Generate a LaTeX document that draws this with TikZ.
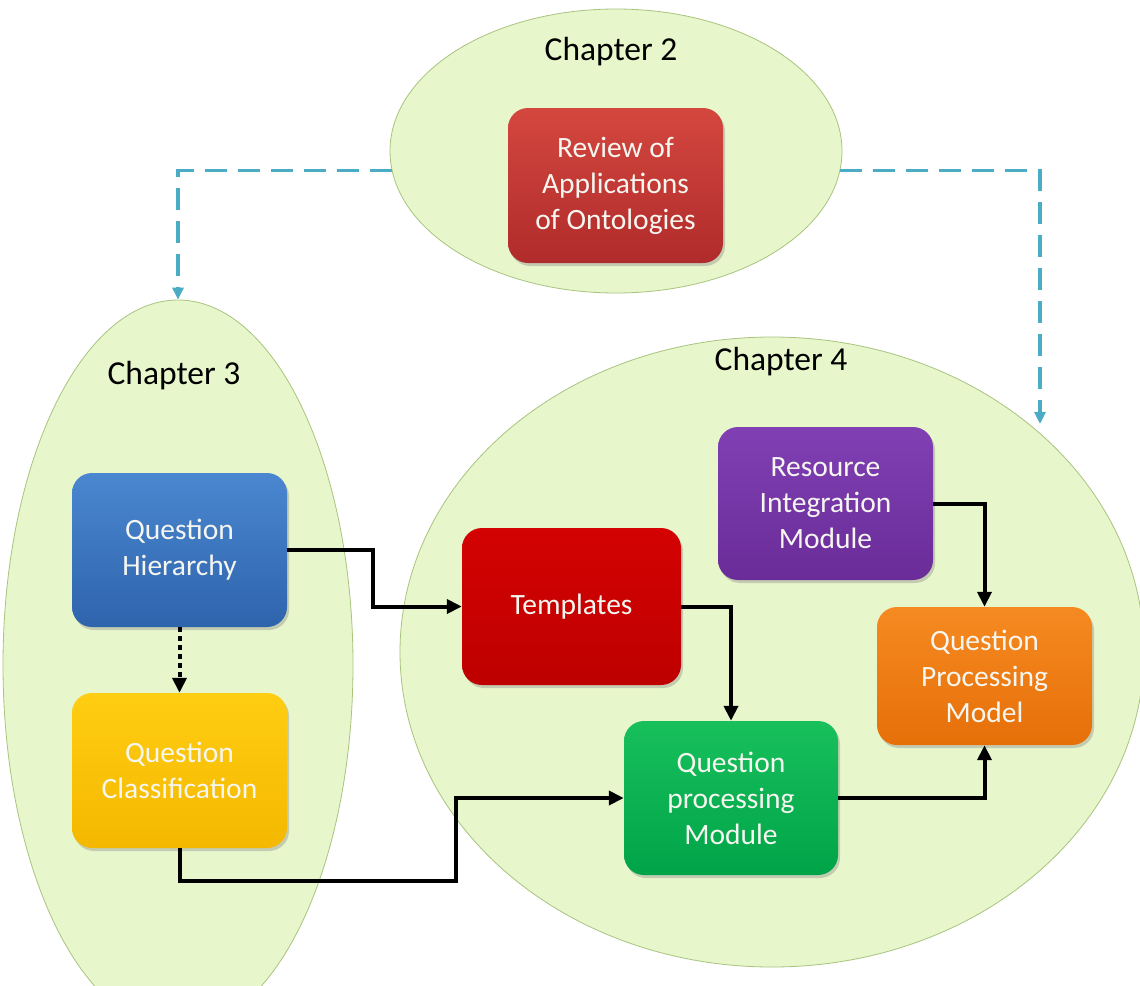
\documentclass[tikz,border=0pt]{standalone}
\usepackage{fontspec}
\setmainfont{Carlito}
\usetikzlibrary{shapes.geometric,arrows.meta,shadows}
\definecolor{chfill}{HTML}{E8F6CC}
\definecolor{chline}{HTML}{A9C47E}
\definecolor{dashblue}{HTML}{4BACC6}
\definecolor{revT}{HTML}{D4473F}\definecolor{revB}{HTML}{B02B2B}
\definecolor{qhT}{HTML}{4A87D0}\definecolor{qhB}{HTML}{2E64AC}
\definecolor{qcT}{HTML}{FFCD12}\definecolor{qcB}{HTML}{F4B800}
\definecolor{tmT}{HTML}{D40202}\definecolor{tmB}{HTML}{BE0000}
\definecolor{rmT}{HTML}{8040B4}\definecolor{rmB}{HTML}{6A2C98}
\definecolor{orT}{HTML}{F68A22}\definecolor{orB}{HTML}{E66F08}
\definecolor{grT}{HTML}{18C05C}\definecolor{grB}{HTML}{00A448}
\definecolor{boxtext}{HTML}{F6F6F0}
\begin{document}
\begin{tikzpicture}[x=1pt,y=-1pt,
  chap/.style={ellipse, draw=chline, line width=0.8pt, fill=chfill, inner sep=0pt},
  chaptitle/.style={font=\fontsize{33.5}{40}\selectfont, text=black},
  box/.style={rectangle, rounded corners=20pt, minimum width=215pt, minimum height=154pt,
    text=boxtext, font=\fontsize{29.5}{36}\selectfont, align=center, inner sep=0pt,
    drop shadow={opacity=0.35, shadow xshift=2pt, shadow yshift=-3pt}},
  conn/.style={draw=black, line width=4pt, -{Triangle[length=15pt,width=14pt]}},
  dotconn/.style={conn, dash pattern=on 5pt off 4pt},
  dashconn/.style={draw=dashblue, line width=3.6pt, dash pattern=on 22pt off 11pt,
    -{Triangle[length=12pt,width=11pt]}}
]
\useasboundingbox (0,0) rectangle (1140,985);
\fill[white] (0,0) rectangle (1140,985);

% chapter ellipses
\node[chap, minimum width=452pt, minimum height=284pt] (ch2) at (616,151) {};
\node[chap, minimum width=350pt, minimum height=730pt] (ch3) at (178,665) {};
\node[chap, minimum width=744pt, minimum height=630pt] (ch4) at (772,652) {};

\node[chaptitle] (t2) at (611,52) {Chapter 2};
\node[chaptitle] (t3) at (174,376) {Chapter 3};
\node[chaptitle] (t4) at (781,362) {Chapter 4};

\coordinate (c4in) at (1040,424);

% dashed connectors from chapter 2
\draw[dashconn] (ch2.185) -| (ch3.north);
\draw[dashconn] (ch2.355) -| (c4in);

% boxes
\node[box, top color=revT, bottom color=revB, minimum height=155pt] (rev) at (615.5,185.5) {Review of\\Applications\\of Ontologies};
\node[box, top color=qhT, bottom color=qhB] (qh) at (179.5,550) {Question\\Hierarchy};
\node[box, top color=qcT, bottom color=qcB, minimum height=155pt] (qc) at (179.5,770.5) {Question\\Classification};
\node[box, top color=tmT, bottom color=tmB, minimum width=219pt, minimum height=157pt] (tmpl) at (571.5,606.5) {Templates};
\node[box, top color=rmT, bottom color=rmB, minimum height=153pt] (rim) at (825.5,503.5) {Resource\\Integration\\Module};
\node[box, top color=orT, bottom color=orB, minimum height=138pt] (qpm) at (984.5,676) {Question\\Processing\\Model};
\node[box, top color=grT, bottom color=grB, minimum width=214pt] (qpmod) at (731,798) {Question\\processing\\Module};

% connectors
\draw[dotconn] (qh.south) -- (qc.north);
\draw[conn] (qh.east) -- ++(86,0) |- (tmpl.west);
\draw[conn] (tmpl.east) -| (qpmod.north);
\draw[conn] (rim.east) -| (qpm.north);
\draw[conn] (qpmod.east) -| (qpm.south);
\draw[conn] (qc.south) -- ++(0,33) -| ([xshift=-168pt]qpmod.west) -- (qpmod.west);
\end{tikzpicture}
\end{document}
